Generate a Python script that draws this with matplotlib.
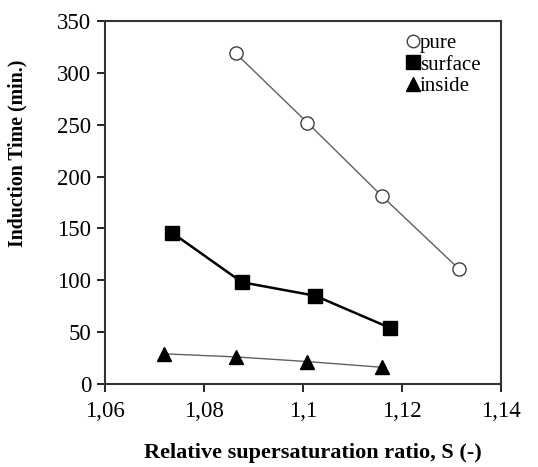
import matplotlib
matplotlib.use("Agg")
import matplotlib.pyplot as plt
from matplotlib.lines import Line2D

plt.rcParams['font.family'] = ['Liberation Serif', 'DejaVu Serif']

# Induction time vs. relative supersaturation ratio
pure_s = [1.0864, 1.1009, 1.1160, 1.1315]
pure_t = [319, 252, 181, 111]

surface_s = [1.0735, 1.0877, 1.1025, 1.1176]
surface_t = [146, 98, 85, 54]

inside_s = [1.0719, 1.0865, 1.1009, 1.1160]
inside_t = [29, 26, 21.5, 16]

x_ticks = [1.06, 1.08, 1.10, 1.12, 1.14]
x_tick_labels = ["1,06", "1,08", "1,1", "1,12", "1,14"]
y_ticks = [0, 50, 100, 150, 200, 250, 300, 350]

fig = plt.figure(figsize=(5.38, 4.67), dpi=100)
ax = fig.add_axes([0.195, 0.178, 0.736, 0.777])

ax.plot(pure_s, pure_t, color='#606060', lw=1.0, marker='o', ms=9.5,
        mfc='white', mec='#404040', mew=1.0)
ax.plot(surface_s, surface_t, color='black', lw=1.8, marker='s', ms=10.5,
        mfc='black', mec='black')
ax.plot(inside_s, inside_t, color='#606060', lw=1.0, marker='^', ms=10,
        mfc='black', mec='black')

ax.set_xlim(1.06, 1.14)
ax.set_ylim(0, 350)
ax.set_xticks(x_ticks)
ax.set_xticklabels(x_tick_labels)
ax.set_yticks(y_ticks)
ax.tick_params(direction='out', length=6, width=1.2, labelsize=16.5, pad=4)
ax.tick_params(axis='x', pad=6)
for sp in ax.spines.values():
    sp.set_linewidth(1.5)
    sp.set_color('#333333')

ax.set_ylabel("Induction Time (min.)", fontsize=14.3, fontweight='bold')
ax.yaxis.set_label_coords(-0.195, 0.635)
fig.text(0.582, 0.03, "Relative supersaturation ratio, S (-)", fontsize=16,
         fontweight='bold', ha='center', va='center')

handles = [
    Line2D([], [], ls='none', marker='o', ms=9, mfc='white', mec='#404040', mew=1.0),
    Line2D([], [], ls='none', marker='s', ms=10, mfc='black', mec='black'),
    Line2D([], [], ls='none', marker='^', ms=10, mfc='black', mec='black'),
]
ax.legend(handles, ["pure", "surface", "inside"], loc='upper right',
          frameon=False, fontsize=15, handlelength=0.6, handletextpad=0.05,
          labelspacing=0.1, borderaxespad=0.2, bbox_to_anchor=(0.98, 1.0))

fig.savefig("out.png", dpi=100)
